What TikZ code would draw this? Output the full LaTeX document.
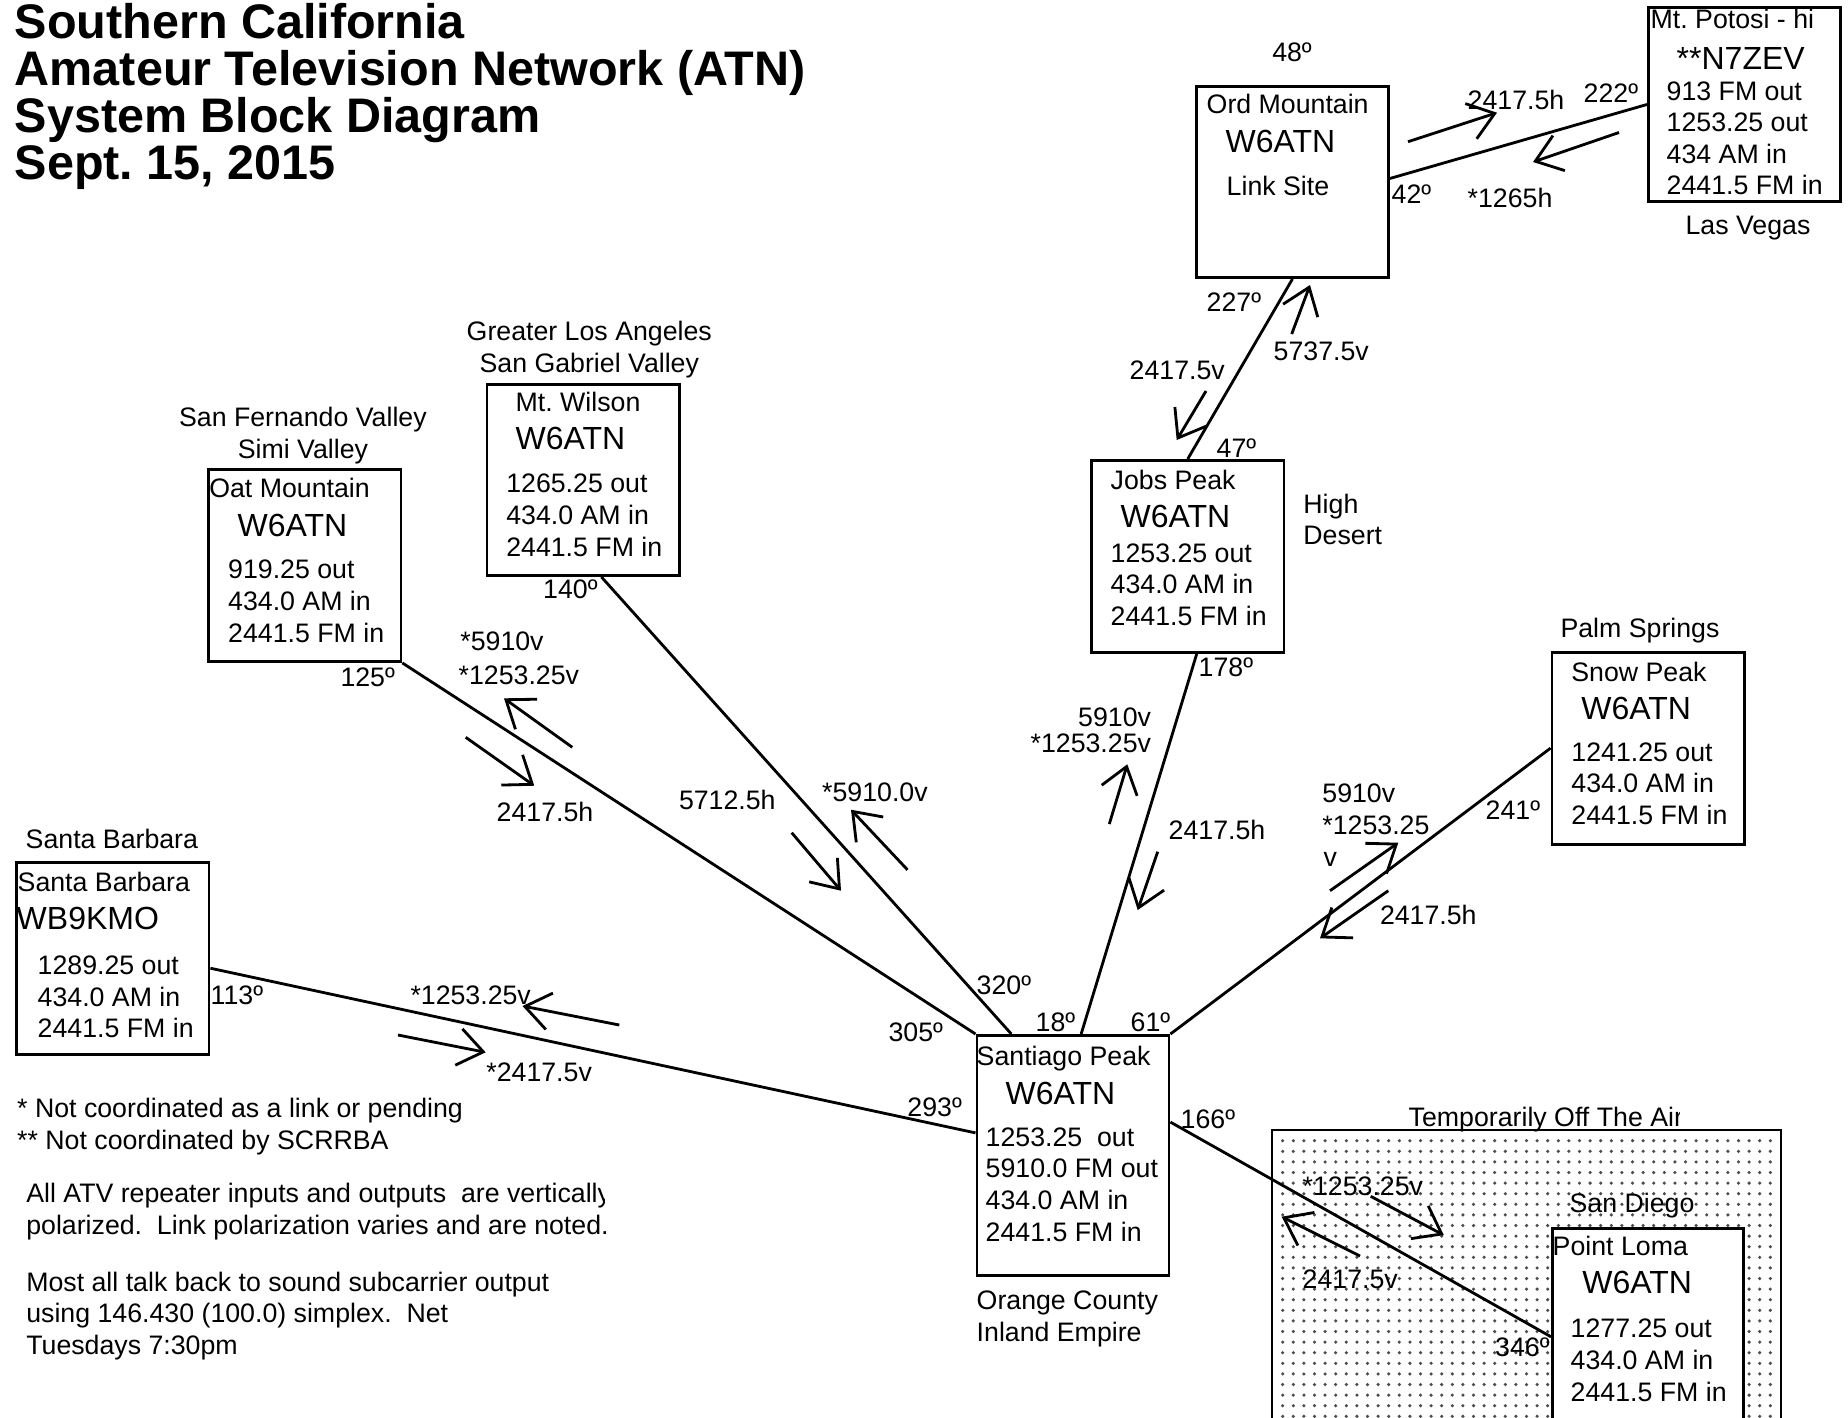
\documentclass[tikz,border=0pt]{standalone}
\usepackage{fontspec}
\setmainfont{Liberation Sans}
\usetikzlibrary{arrows.meta,calc}
\newcommand{\fsn}{\fontsize{7.6}{9}\selectfont}
\newcommand{\fsb}{\fontsize{9.1}{11}\selectfont}
\newcommand{\fst}{\fontsize{13.8}{13.3}\selectfont\bfseries}
\newcommand{\arw}[3]{\coordinate (#1t) at #2; \coordinate (#1h) at #3; \draw[arr] (#1t) -- (#1h);}
\frenchspacing
\begin{document}
\frenchspacing
\begin{tikzpicture}[x=0.01cm,y=-0.01cm,
  txt/.style={inner sep=0pt, anchor=base west, font=\fsn},
  ctxt/.style={inner sep=0pt, anchor=base, font=\fsn},
  bigt/.style={inner sep=0pt, anchor=base west, font=\fsb},
  ttl/.style={inner sep=0pt, anchor=base west, font=\fst},
  box/.style={draw, line width=0.8pt, anchor=north west, inner sep=0pt},
  lnk/.style={line width=0.8pt},
  arr/.style={line width=0.8pt, -{Straight Barb[length=0.25cm,width=0.37cm]}},
  dotc/.style={fill=black!70}]
\clip (0,0) rectangle (1848,1417);
\fill[white] (0,0) rectangle (1848,1417);
% title
\node[ttl] (ti1) at (14,38) {Southern California};
\node[ttl] (ti2) at (14,85.4) {Amateur Television Network (ATN)};
\node[ttl] (ti3) at (14,132.5) {System Block Diagram};
\node[ttl] (ti4) at (14,179.6) {Sept.\ 15, 2015};
% dotted region
\foreach \i in {0,...,46} {\foreach \j in {0,...,26} {\fill[dotc] (1282.7+10.6*\i,1140.7+10.6*\j) circle[radius=0.5pt];}}
\draw[line width=0.7pt] (1272,1440) -- (1272,1130) -- (1781,1130) -- (1781,1440);
\begin{scope}
\clip (0,0) rectangle (1679,1417);
\node[txt] (toff) at (1408,1126.5) {Temporarily Off The Air};
\end{scope}
% boxes
\node[box, minimum width=1.92cm, minimum height=1.91cm] (ord) at (1195,85) {};
\node[box, minimum width=1.92cm, minimum height=1.94cm] (pot) at (1647,6) {};
\node[box, minimum width=1.92cm, minimum height=1.91cm] (wil) at (485.6,383) {};
\node[box, minimum width=1.92cm, minimum height=1.92cm] (oat) at (207.4,468) {};
\node[box, minimum width=1.925cm, minimum height=1.92cm] (job) at (1090,459) {};
\node[box, minimum width=1.925cm, minimum height=1.92cm] (snow) at (1550.5,650.7) {};
\node[box, minimum width=1.925cm, minimum height=1.92cm] (sb) at (15,861) {};
\node[box, minimum width=1.92cm, minimum height=2.40cm] (sant) at (975.5,1034) {};
\node[box, fill=white, minimum width=1.91cm, minimum height=2.50cm] (pl) at (1551,1227) {};
% connectors
\draw[lnk] (oat.south east) -- (sant.north west);
\draw[lnk] ($(wil.south west)!0.594!(wil.south east)$) -- ($(sant.north west)!0.184!(sant.north east)$);
\draw[lnk] ($(job.south west)!0.546!(job.south east)$) -- ($(sant.north west)!0.542!(sant.north east)$);
\draw[lnk] (snow.west) -- (sant.north east);
\draw[lnk] ($(sb.north east)!0.55!(sb.south east)$) -- ($(sant.north west)!0.407!(sant.south west)$);
\draw[lnk] ($(sant.north east)!0.3625!(sant.south east)$) -- ($(pl.north west)!0.434!(pl.south west)$);
\draw[lnk] (job.north) -- (ord.south);
\draw[lnk] ([yshift=0.035cm]ord.east) -- (pot.west);
% arrows
\arw{a1}{(1408,141.7)}{(1497,112.7)}
\arw{a2}{(1619,132.5)}{(1533,162)}
\arw{a3}{(1291.7,334)}{(1310,285)}
\arw{a4}{(1206,391)}{(1176.7,440)}
\arw{a5}{(572.3,747.3)}{(504,698.3)}
\arw{a6}{(465.7,737.3)}{(534.3,785.7)}
\arw{a7}{(791.7,832.7)}{(841,890.7)}
\arw{a8}{(907.5,869.8)}{(851,809.7)}
\arw{a9}{(1109.3,824)}{(1127.3,764.3)}
\arw{a10}{(1157.7,851.7)}{(1137.7,910)}
\arw{a11}{(1330,890.7)}{(1398.3,842.7)}
\arw{a12}{(1388.3,890.7)}{(1320,938.3)}
\arw{a13}{(619.3,1025)}{(522.5,1006)}
\arw{a14}{(398,1035)}{(485.7,1052.3)}
\arw{a15}{(1370.7,1196.3)}{(1443.8,1235.1)}
\arw{a16}{(1360,1256)}{(1281.7,1216.7)}
% Ord Mountain
\node[ctxt] (o48) at (1292,61.5) {48º};
\node[txt] (o1) at (1206,113) {Ord Mountain};
\node[bigt] (o2) at (1225,152) {W6ATN};
\node[txt] (o3) at (1226,195) {Link Site};
\node[txt] (o4) at (1467,109.5) {2417.5h};
\node[txt] (o5) at (1583,102.5) {222º};
\node[txt] (o6) at (1391,203) {42º};
\node[txt] (o7) at (1467,207.5) {*1265h};
% Mt Potosi
\node[txt] (p1) at (1650,28) {Mt. Potosi - hi};
\node[bigt] (p2) at (1676,69) {**N7ZEV};
\node[txt] (p3) at (1666,100) {913 FM out};
\node[txt] (p4) at (1666,131.5) {1253.25 out};
\node[txt] (p5) at (1666,163) {434 AM in};
\node[txt] (p6) at (1666,194.5) {2441.5 FM in};
\node[ctxt] (p7) at (1748,234.5) {Las Vegas};
% Jobs Peak
\node[txt] (j0a) at (1206,311) {227º};
\node[txt] (j0b) at (1273,360) {5737.5v};
\node[txt] (j0c) at (1129,379.5) {2417.5v};
\node[txt] (j0d) at (1216,457.5) {47º};
\node[txt] (j1) at (1110,489) {Jobs Peak};
\node[bigt] (j2) at (1120,527.3) {W6ATN};
\node[txt] (j3) at (1110,562) {1253.25 out};
\node[txt] (j4) at (1110,593.5) {434.0 AM in};
\node[txt] (j5) at (1110,625.2) {2441.5 FM in};
\node[txt] (j6) at (1302.7,513) {High};
\node[txt] (j7) at (1302.7,544.5) {Desert};
\node[txt] (j8) at (1198,676) {178º};
% Jobs - Santiago labels
\node[inner sep=0pt, anchor=base east, font=\fsn] (js1) at (1151.7,726) {5910v};
\node[inner sep=0pt, anchor=base east, font=\fsn] (js2) at (1151.7,752.8) {*1253.25v};
\node[txt] (js3) at (1168,839.5) {2417.5h};
% Snow Peak
\node[ctxt] (s0) at (1640,637.8) {Palm Springs};
\node[txt] (s1) at (1570.7,681) {Snow Peak};
\node[bigt] (s2) at (1580.7,719.6) {W6ATN};
\node[txt] (s3) at (1570.7,761) {1241.25 out};
\node[txt] (s4) at (1570.7,792.8) {434.0 AM in};
\node[txt] (s5) at (1570.7,824.5) {2441.5 FM in};
\node[txt] (s6) at (1485,819.5) {241º};
\node[txt] (ss1) at (1321.7,802.8) {5910v};
\node[txt] (ss2) at (1321.7,834.5) {*1253.25};
\node[txt] (ss3) at (1323,866) {v};
\node[txt] (ss4) at (1379.3,924.5) {2417.5h};
% Mt Wilson
\node[ctxt] (w0a) at (589.3,340.5) {Greater Los Angeles};
\node[ctxt] (w0b) at (589.3,372.5) {San Gabriel Valley};
\node[txt] (w1) at (515,411.5) {Mt. Wilson};
\node[bigt] (w2) at (515,449.7) {W6ATN};
\node[txt] (w3) at (505.6,492.7) {1265.25 out};
\node[txt] (w4) at (505.6,524.5) {434.0 AM in};
\node[txt] (w5) at (505.6,556.4) {2441.5 FM in};
\node[ctxt] (w6) at (570.4,598.8) {140º};
\node[txt] (ws1) at (678.3,809.5) {5712.5h};
\node[txt] (ws2) at (821.5,801.5) {*5910.0v};
% Oat Mountain
\node[ctxt] (m0a) at (302.9,426.7) {San Fernando Valley};
\node[ctxt] (m0b) at (302.9,458.5) {Simi Valley};
\node[txt] (m1) at (208.6,497.5) {Oat Mountain};
\node[bigt] (m2) at (237,536) {W6ATN};
\node[txt] (m3) at (227.5,578.8) {919.25 out};
\node[txt] (m4) at (227.5,610.5) {434.0 AM in};
\node[txt] (m5) at (227.5,642.5) {2441.5 FM in};
\node[ctxt] (m6) at (367.7,686) {125º};
\node[txt] (ms1) at (459.7,650.7) {*5910v};
\node[txt] (ms2) at (458,684.5) {*1253.25v};
\node[txt] (ms3) at (496,821.2) {2417.5h};
% Santa Barbara
\node[txt] (b0) at (25,848.5) {Santa Barbara};
\node[txt] (b1) at (17,891) {Santa Barbara};
\node[bigt] (b2) at (16,929.6) {WB9KMO};
\node[txt] (b3) at (37,974.5) {1289.25 out};
\node[txt] (b4) at (37,1006.2) {434.0 AM in};
\node[txt] (b5) at (37,1037.8) {2441.5 FM in};
\node[txt] (b6) at (210,1004.5) {113º};
\node[txt] (bs1) at (409.8,1004.5) {*1253.25v};
\node[txt] (bs2) at (485.7,1081.2) {*2417.5v};
% Santiago Peak
\node[txt] (g1) at (976,1065.5) {Santiago Peak};
\node[bigt] (g2) at (1005,1104) {W6ATN};
\node[txt] (g3) at (985,1146.2) {1253.25\ \ out};
\node[txt] (g4) at (985,1177.8) {5910.0 FM out};
\node[txt] (g5) at (985,1209.5) {434.0 AM in};
\node[txt] (g6) at (985,1241.2) {2441.5 FM in};
\node[txt] (g7) at (976,1309.5) {Orange County};
\node[txt] (g8) at (976,1341.3) {Inland Empire};
\node[txt] (g9) at (976,994.5) {320º};
\node[txt] (g10) at (1035,1031) {18º};
\node[txt] (g11) at (1130,1031) {61º};
\node[ctxt] (g12) at (915.8,1041) {305º};
\node[ctxt] (g13) at (934.6,1116) {293º};
\node[txt] (g14) at (1180,1128.8) {166º};
% Point Loma
\node[txt] (l0a) at (1302,1195) {*1253.25v};
\node[txt] (l0b) at (1302,1288.5) {2417.5v};
\node[ctxt] (l0c) at (1632,1212.5) {San Diego};
\node[txt] (l1) at (1552,1255.5) {Point Loma};
\node[bigt] (l2) at (1581.7,1293.3) {W6ATN};
\node[txt] (l3) at (1570,1337.5) {1277.25 out};
\node[txt] (l4) at (1570,1369.5) {434.0 AM in};
\node[txt] (l5) at (1570,1401.5) {2441.5 FM in};
\node[txt] (l6) at (1494.5,1356.5) {346º};
% notes
\node[txt] (n1) at (16.5,1117.8) {* Not coordinated as a link or pending};
\node[txt] (n2) at (16.5,1149.5) {** Not coordinated by SCRRBA};
\begin{scope}
\clip (0,0) rectangle (604,1417);
\node[txt] (n3) at (25.6,1202.8) {All ATV repeater inputs and outputs\ \ are vertically};
\end{scope}
\node[txt] (n4) at (25.6,1234.5) {polarized.\ \ Link polarization varies and are noted.};
\node[txt] (n5) at (25.6,1291.2) {Most all talk back to sound subcarrier output};
\node[txt] (n6) at (25.6,1322.8) {using 146.430 (100.0) simplex.\ \ Net};
\node[txt] (n7) at (25.6,1354.5) {Tuesdays 7:30pm};
\end{tikzpicture}
\end{document}
